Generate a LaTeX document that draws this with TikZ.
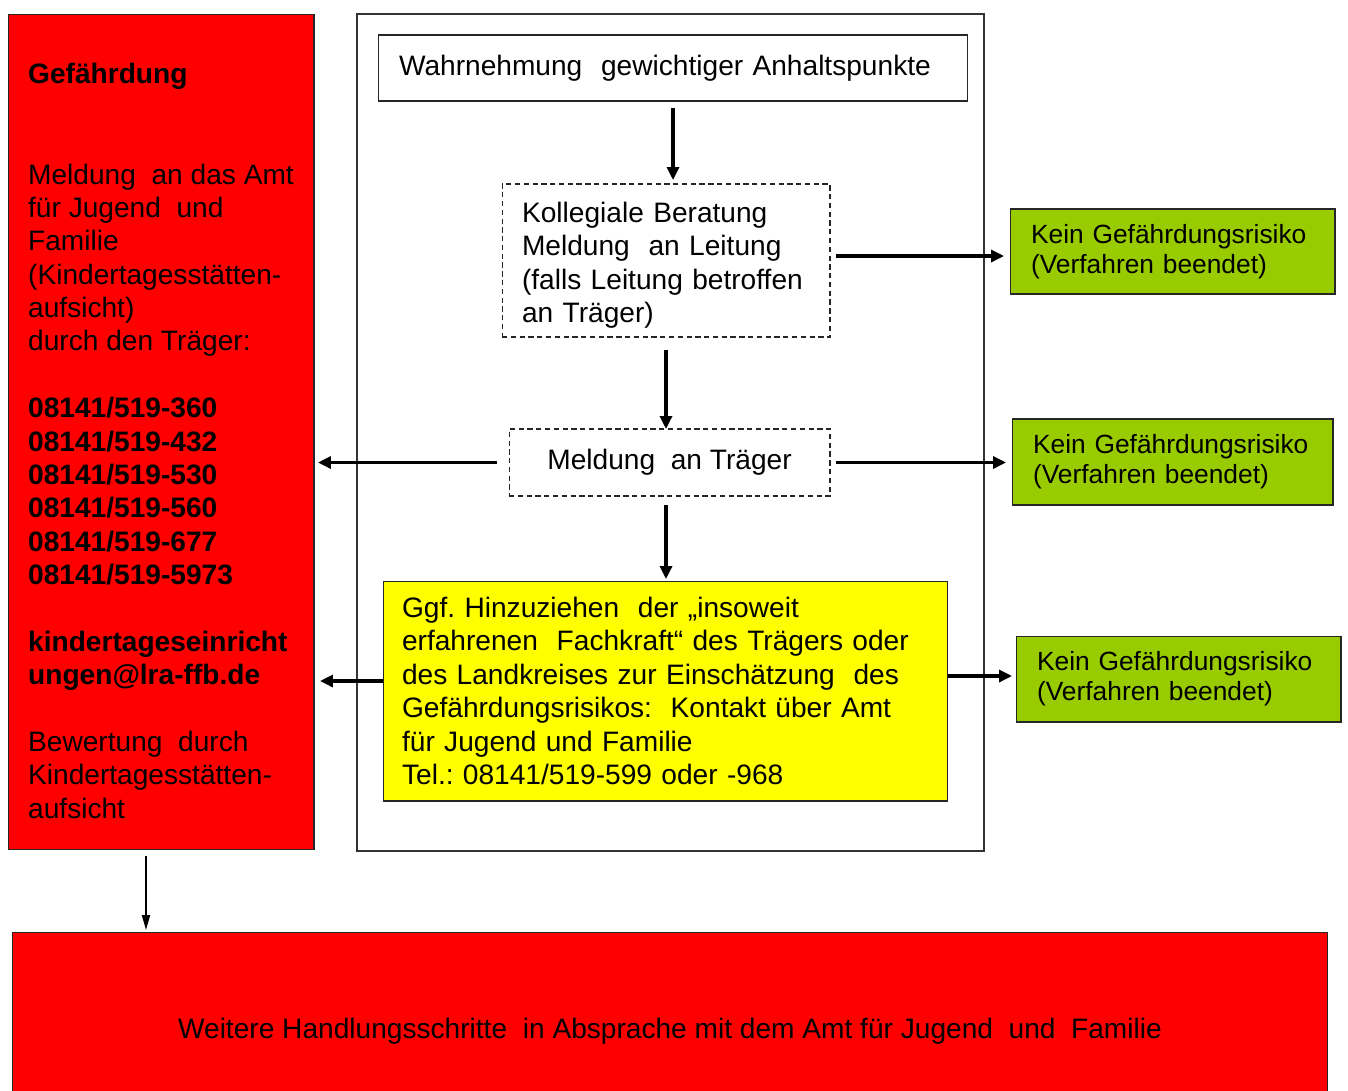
\documentclass[tikz,border=0pt]{standalone}
\usepackage{fontspec}
\setmainfont{Liberation Sans}
\usetikzlibrary{arrows.meta,calc}

\definecolor{rot}{RGB}{255,0,0}
\definecolor{gelb}{RGB}{255,255,0}
\definecolor{gruen}{RGB}{153,204,0}

\frenchspacing

\begin{document}
\begin{tikzpicture}[x=0.02cm,y=-0.02cm,every node/.style={outer sep=0pt}]
\tikzset{
    box/.style      = {draw=black!85,line width=0.6pt,inner sep=0pt,font=\fontsize{16}{19}\selectfont},
    leftbox/.style  = {box,align=left,anchor=center},
    redbox/.style   = {leftbox,fill=rot},
    dashbox/.style  = {leftbox,dash pattern=on 3pt off 2pt},
    greenbox/.style = {leftbox,fill=gruen,font=\fontsize{15}{17}\selectfont,
                        text width=5.66cm,inner xsep=0.42cm,minimum height=1.72cm},
    pfeil/.style    = {line width=1.8pt,-{Triangle[length=0.26cm,width=0.24cm]}}
}

\useasboundingbox (0,0) rectangle (1348,1090);
\clip (0,0) rectangle (1348,1090);

%% left column: Gefaehrdung
\node (gefahr) [redbox,minimum width=6.12cm,minimum height=16.72cm] at (161,432)
    {\rule{0pt}{0.77cm}\textbf{Gefährdung}\\~\\~\\Meldung\ \ an das Amt\\für Jugend\ \ und\\Familie\\(Kindertagesstätten-\\aufsicht)\\durch den Träger:\\~\\
     \textbf{08141/519-360}\\\textbf{08141/519-432}\\\textbf{08141/519-530}\\\textbf{08141/519-560}\\\textbf{08141/519-677}\\\textbf{08141/519-5973}\\~\\
     \textbf{kindertageseinricht}\\\textbf{ungen@lra-ffb.de}\\~\\Bewertung\ \ durch\\Kindertagesstätten-\\aufsicht};

%% middle frame and its steps
\node (rahmen) [draw=black!80,line width=0.8pt,minimum width=12.54cm,minimum height=16.74cm,inner sep=0pt] at (670.5,432.5) {};

\node (wahrnehm) [leftbox,fill=white,text width=10.96cm,inner xsep=0.42cm,minimum height=1.32cm] at (673,68)
    {Wahrnehmung\ \ gewichtiger Anhaltspunkte};
\node (beratung) [dashbox,text width=5.76cm,inner xsep=0.4cm,minimum height=3.06cm] at (666,260.5)
    {\rule{0pt}{0.6cm}Kollegiale Beratung\\Meldung\ \ an Leitung\\(falls Leitung betroffen\\an Träger)};
\node (traeger) [dashbox,align=center,minimum width=6.42cm,minimum height=1.34cm] at (669.5,462.5)
    {Meldung\ \ an Träger};
\node (fachkraft) [leftbox,fill=gelb,text width=10.54cm,inner xsep=0.38cm,minimum height=4.4cm] at (665.5,691)
    {Ggf. Hinzuziehen\ \ der „insoweit\\erfahrenen\ \ Fachkraft“ des Trägers oder\\des Landkreises zur Einschätzung\ \ des\\Gefährdungsrisikos:\ \ Kontakt über Amt\\für Jugend und Familie\\Tel.: 08141/519-599 oder -968};

%% right column
\node (kein1) [greenbox,minimum height=1.7cm] at (1172.5,251.5) {Kein Gefährdungsrisiko\\(Verfahren beendet)};
\node (kein2) [greenbox,text width=5.58cm] at (1172.5,462) {Kein Gefährdungsrisiko\\(Verfahren beendet)};
\node (kein3) [greenbox] at (1178.5,679) {Kein Gefährdungsrisiko\\(Verfahren beendet)};

%% bottom
\node (weitere) [box,fill=rot,minimum width=26.32cm,minimum height=3.96cm] at (670,1031)
    {Weitere Handlungsschritte\ \ in Absprache mit dem Amt für Jugend\ \ und\ \ Familie};

%% arrows
\draw [pfeil,shorten <=0.14cm,shorten >=0.08cm] (wahrnehm.south) -- (wahrnehm.south |- beratung.north);
\draw [pfeil,shorten <=0.26cm] (beratung.south) -- (beratung.south |- traeger.north);
\draw [pfeil,shorten <=0.18cm,shorten >=0.04cm] (traeger.south -| beratung.south) -- (beratung.south |- fachkraft.north);
\draw [pfeil,shorten <=0.24cm,shorten >=0.08cm] (traeger.west) -- (traeger.west -| gefahr.east);
\draw [pfeil,shorten >=0.12cm] ([yshift=0.2cm]fachkraft.west) -- ([yshift=0.2cm]fachkraft.west -| gefahr.east);
\draw [pfeil,shorten <=0.12cm,shorten >=0.12cm] ([yshift=0.09cm]beratung.east) -- ([yshift=0.09cm]beratung.east -| kein1.west);
\draw [pfeil,shorten <=0.12cm,shorten >=0.12cm] (traeger.east) -- (traeger.east -| kein2.west);
\draw [pfeil,shorten >=0.08cm] ([yshift=0.06cm]fachkraft.east |- kein3) -- ([yshift=0.06cm]kein3.west);
\draw [line width=1pt,-{Triangle[length=0.3cm,width=0.16cm]},shorten <=0.12cm,shorten >=0.04cm]
    ([xshift=-0.3cm]gefahr.south) -- ([xshift=-0.3cm]gefahr.south |- weitere.north);

\end{tikzpicture}
\end{document}
